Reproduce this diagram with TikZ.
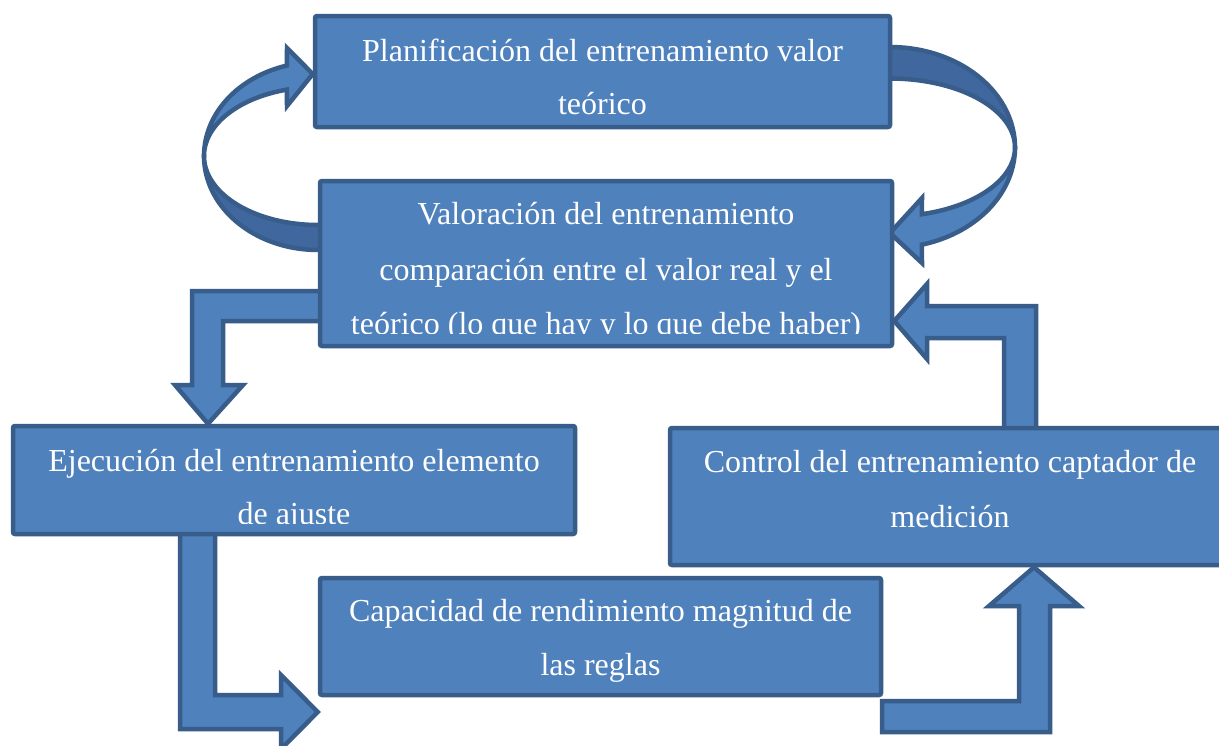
\documentclass[tikz,border=0pt]{standalone}
\usepackage{fontspec}
\setmainfont{Liberation Serif}
\usetikzlibrary{calc}
\definecolor{fillblue}{HTML}{4F81BD}
\definecolor{lineblue}{HTML}{385D8A}
\definecolor{backblue}{RGB}{64,104,158}
\pgfdeclarelayer{back}
\pgfdeclarelayer{bg}
\pgfsetlayers{back,bg,main}
\tikzset{
  boxstyle/.style={draw=lineblue, fill=fillblue, line width=4.5pt, rounded corners=2pt, inner sep=0pt},
  arrowshape/.style={draw=lineblue, fill=fillblue, line width=4.5pt, line join=miter},
  backshape/.style={draw=lineblue, fill=backblue, line width=4.5pt, line join=miter},
  txt/.style={text=white, font=\fontsize{32}{38}\selectfont, anchor=base, inner sep=0pt},
}
\begin{document}
\begin{tikzpicture}[x=1pt,y=-1pt]
\clip (0,0) rectangle (1219,745);
\begin{pgfonlayer}{back}
\fill[white] (0,0) rectangle (1219,745);
\end{pgfonlayer}
% boxes
\node[boxstyle, minimum width=575pt, minimum height=111pt] (plan) at (602.5,71.5) {};
\node[boxstyle, minimum width=572pt, minimum height=165pt] (val) at (606,263.5) {};
\node[boxstyle, minimum width=562pt, minimum height=108pt] (eje) at (294,480) {};
\node[boxstyle, minimum width=560pt, minimum height=137pt] (ctrl) at (950,496.5) {};
\node[boxstyle, minimum width=561pt, minimum height=117pt] (cap) at (600.5,636.5) {};
% texts
\node[txt] (p1) at (602.5,61) {Planificación del entrenamiento valor};
\node[txt] (p2) at (602.5,114) {teórico};
\begin{scope}
\clip (322,183) rectangle (890,333.5);
\node[txt] (v1) at (606,224) {Valoración del entrenamiento};
\node[txt] (v2) at (606,280) {comparación entre el valor real y el};
\node[txt] (v3) at (606,334) {teórico (lo que hay y lo que debe haber)};
\end{scope}
\begin{scope}
\clip (15,428) rectangle (573,523.5);
\node[txt] (e1) at (294,471) {Ejecución del entrenamiento elemento};
\node[txt] (e2) at (294,524) {de ajuste};
\end{scope}
\node[txt] (c1) at (950,472) {Control del entrenamiento captador de};
\node[txt] (c2) at (950,527) {medición};
\node[txt] (k1) at (600.5,621) {Capacidad de rendimiento magnitud de};
\node[txt] (k2) at (600.5,675) {las reglas};
% arrows
\begin{pgfonlayer}{bg}
% valoracion -> planificacion (left curved)
\draw[backshape] plot[domain=180:90, samples=40] ({318+114*cos(\x)},{156+94*sin(\x)})
  -- (324,250) -- (324,225)
  -- plot[domain=90:180, samples=40] ({318+114*cos(\x)},{156+69*sin(\x)}) -- cycle;
\draw[arrowshape] plot[domain=180:254.2, samples=40] ({318+114*cos(\x)},{156+94*sin(\x)})
  -- (287,48) -- (plan.west |- 0,74) -- (287,106)
  -- plot[domain=254.2:180, samples=40] ({318+114*cos(\x)},{156+69*sin(\x)}) -- cycle;
% planificacion -> valoracion (right curved)
\draw[backshape] plot[domain=0:-90, samples=40] ({890+125*cos(\x)},{147.5+100.5*sin(\x)})
  -- (886,47) -- (886,78.5)
  -- plot[domain=-90:0, samples=40] ({890+125*cos(\x)},{147.5+69*sin(\x)}) -- cycle;
\draw[arrowshape] plot[domain=0:75.2, samples=40] ({890+125*cos(\x)},{147.5+100.5*sin(\x)})
  -- (922,263) -- (890,233) -- (922,198)
  -- plot[domain=75.2:0, samples=40] ({890+125*cos(\x)},{147.5+69*sin(\x)}) -- cycle;
% valoracion -> ejecucion
\draw[arrowshape] (324,291) -- (192,291) -- (192,385) -- (175,385) -- (208,0 |- eje.north)
  -- (243,385) -- (223,385) -- (223,321) -- (324,321) -- cycle;
% control -> valoracion
\draw[arrowshape] (1004,432) -- (1004,338) -- (927,338) -- (927,359) -- (val.east |- 0,321)
  -- (927,284) -- (927,306) -- (1036,306) -- (1036,432) -- cycle;
% ejecucion -> capacidad
\draw[arrowshape] (180,530) -- (180,729) -- (281,729) -- (281,749) -- (cap.west |- 0,712)
  -- (281,675) -- (281,695) -- (215,695) -- (215,530) -- cycle;
% capacidad -> control
\draw[arrowshape] (882,701) -- (1019,701) -- (1019,606) -- (989,606) -- (1034,0 |- ctrl.south)
  -- (1079,606) -- (1050,606) -- (1050,732) -- (882,732) -- cycle;
\end{pgfonlayer}
\end{tikzpicture}
\end{document}
